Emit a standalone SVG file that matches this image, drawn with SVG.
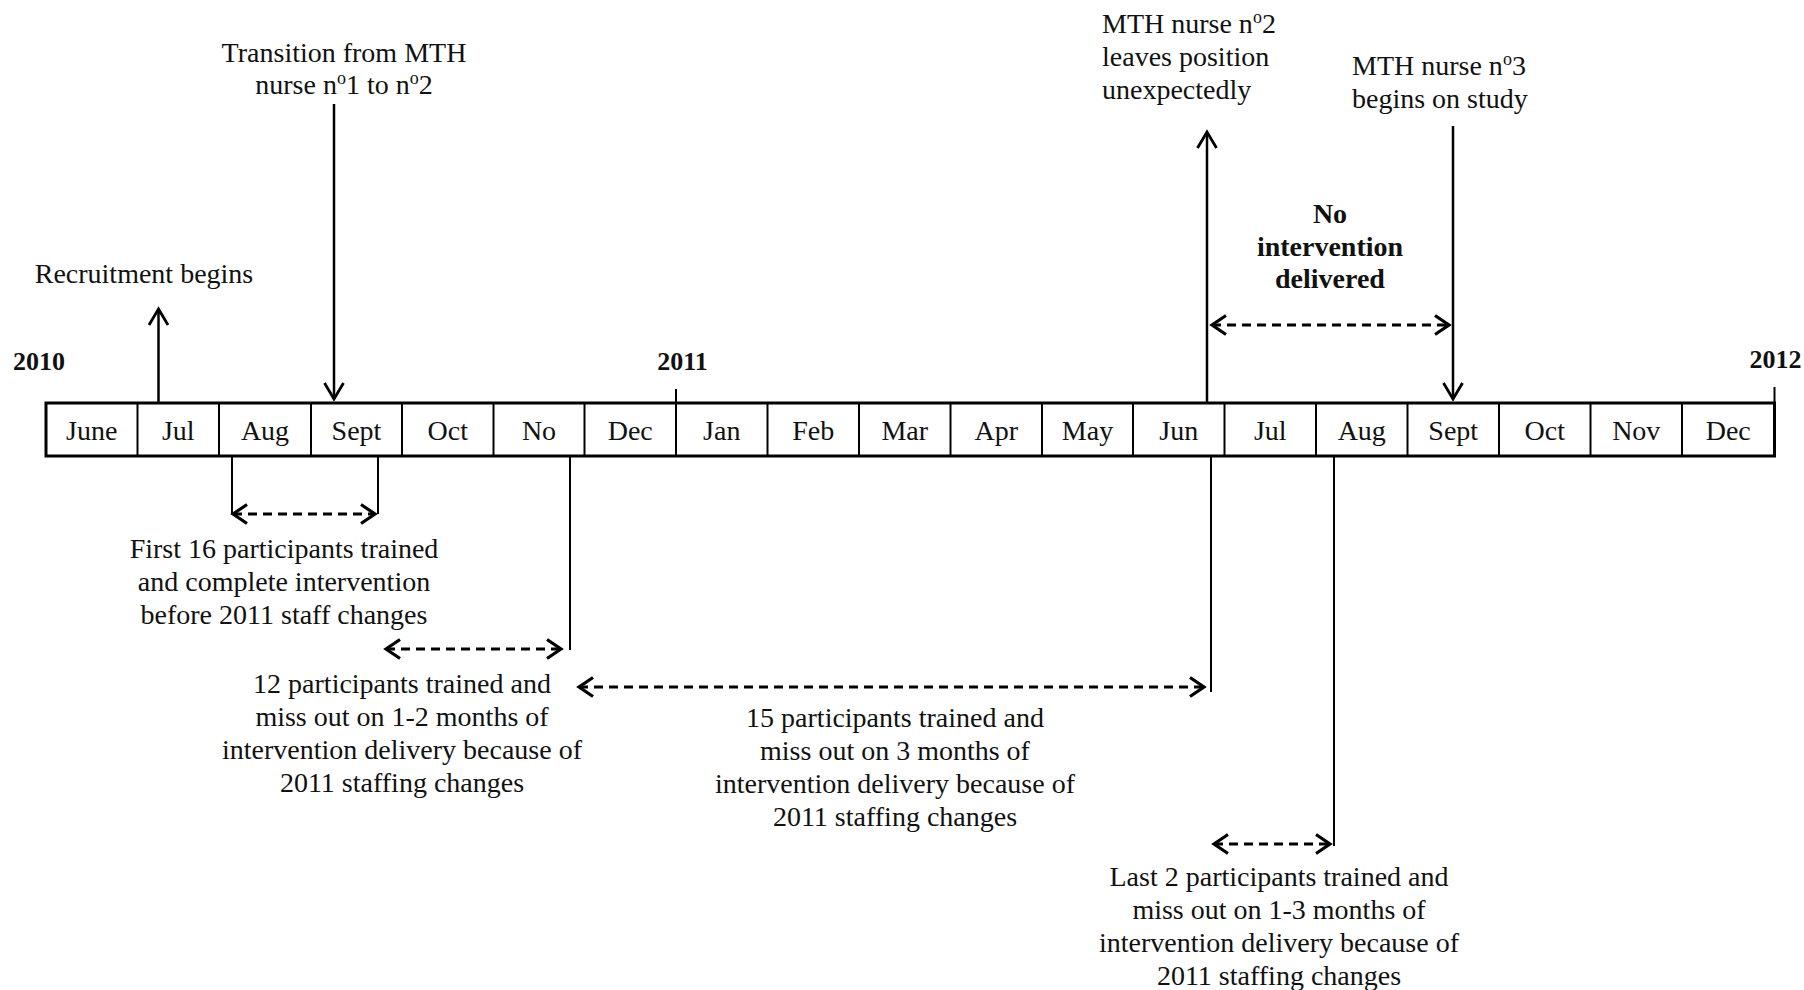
<svg xmlns="http://www.w3.org/2000/svg" width="1804" height="990" viewBox="0 0 1804 990">
<style>
  text { font-family: "Liberation Serif", "Times New Roman", serif; font-size: 28px; fill: #111; }
  .mid { text-anchor: middle; }
  .bold { font-weight: bold; }
  .year { font-weight: bold; font-size: 26px; text-anchor: middle; }
  .box { fill: #fff; stroke: #000; stroke-width: 3; }
  .div { stroke: #000; stroke-width: 2; }
  .solid { stroke: #000; stroke-width: 2.5; fill: none; }
  .dash { stroke: #000; stroke-width: 2.8; fill: none; stroke-dasharray: 9 6; }
  .thin { stroke: #000; stroke-width: 2; fill: none; }
</style>
<defs>
  <marker id="ah" markerUnits="userSpaceOnUse" viewBox="-18 -12 20 24" refX="0" refY="0" markerWidth="20" markerHeight="24" orient="auto" style="overflow:visible">
    <path d="M-16,-9.5 L0,0 L-16,9.5" fill="none" stroke="#000" stroke-width="2.8" stroke-dasharray="none"/>
  </marker>
  <marker id="dh" markerUnits="userSpaceOnUse" viewBox="-16 -11 18 22" refX="0" refY="0" markerWidth="18" markerHeight="22" orient="auto-start-reverse" style="overflow:visible">
    <path d="M-14,-9.5 L0,0 L-14,9.5" fill="none" stroke="#000" stroke-width="3.2" stroke-dasharray="none"/>
  </marker>
</defs>
<rect width="1804" height="990" fill="#fff"/>

<g id="timeline">
  <rect class="box" x="46" y="403" width="1728.5" height="53"/>
  <line class="div" x1="137.5" y1="403" x2="137.5" y2="456"/>
  <line class="div" x1="219" y1="403" x2="219" y2="456"/>
  <line class="div" x1="311" y1="403" x2="311" y2="456"/>
  <line class="div" x1="402" y1="403" x2="402" y2="456"/>
  <line class="div" x1="493.5" y1="403" x2="493.5" y2="456"/>
  <line class="div" x1="584.5" y1="403" x2="584.5" y2="456"/>
  <line class="div" x1="676" y1="389" x2="676" y2="456"/>
  <line class="div" x1="767.5" y1="403" x2="767.5" y2="456"/>
  <line class="div" x1="859" y1="403" x2="859" y2="456"/>
  <line class="div" x1="950.5" y1="403" x2="950.5" y2="456"/>
  <line class="div" x1="1042" y1="403" x2="1042" y2="456"/>
  <line class="div" x1="1133" y1="403" x2="1133" y2="456"/>
  <line class="div" x1="1224.5" y1="403" x2="1224.5" y2="456"/>
  <line class="div" x1="1316" y1="403" x2="1316" y2="456"/>
  <line class="div" x1="1407.5" y1="403" x2="1407.5" y2="456"/>
  <line class="div" x1="1499" y1="403" x2="1499" y2="456"/>
  <line class="div" x1="1590.5" y1="403" x2="1590.5" y2="456"/>
  <line class="div" x1="1682" y1="403" x2="1682" y2="456"/>
  <line class="div" x1="1774.5" y1="387" x2="1774.5" y2="403"/>
  <text class="mid" x="91.75" y="440">June</text>
  <text class="mid" x="178.25" y="440">Jul</text>
  <text class="mid" x="265" y="440">Aug</text>
  <text class="mid" x="356.5" y="440">Sept</text>
  <text class="mid" x="447.75" y="440">Oct</text>
  <text class="mid" x="539" y="440">No</text>
  <text class="mid" x="630.25" y="440">Dec</text>
  <text class="mid" x="721.75" y="440">Jan</text>
  <text class="mid" x="813.25" y="440">Feb</text>
  <text class="mid" x="904.75" y="440">Mar</text>
  <text class="mid" x="996.25" y="440">Apr</text>
  <text class="mid" x="1087.5" y="440">May</text>
  <text class="mid" x="1178.75" y="440">Jun</text>
  <text class="mid" x="1270.25" y="440">Jul</text>
  <text class="mid" x="1361.75" y="440">Aug</text>
  <text class="mid" x="1453.25" y="440">Sept</text>
  <text class="mid" x="1544.75" y="440">Oct</text>
  <text class="mid" x="1636.25" y="440">Nov</text>
  <text class="mid" x="1728.25" y="440">Dec</text>
</g>

<g id="years">
  <text class="year" x="39" y="370">2010</text>
  <text class="year" x="682.5" y="370">2011</text>
  <text class="year" x="1775.5" y="368">2012</text>
</g>

<g id="recruitment">
  <text class="mid" x="144" y="283">Recruitment begins</text>
</g>

<g id="transition">
  <text class="mid" x="344" y="62">Transition from MTH</text>
  <text class="mid" x="344" y="94">nurse n<tspan font-size="18" dy="-10">o</tspan><tspan dy="10">1 to n</tspan><tspan font-size="18" dy="-10">o</tspan><tspan dy="10">2</tspan></text>
</g>

<g id="nurse2-leaves">
  <text x="1102" y="33">MTH nurse n<tspan font-size="18" dy="-10">o</tspan><tspan dy="10">2</tspan></text>
  <text x="1102" y="66">leaves position</text>
  <text x="1102" y="99">unexpectedly</text>
</g>

<g id="nurse3-begins">
  <text x="1352" y="75">MTH nurse n<tspan font-size="18" dy="-10">o</tspan><tspan dy="10">3</tspan></text>
  <text x="1352" y="108">begins on study</text>
</g>

<g id="no-intervention">
  <text class="mid bold" x="1330" y="223">No</text>
  <text class="mid bold" x="1330" y="256">intervention</text>
  <text class="mid bold" x="1330" y="288">delivered</text>
</g>

<g id="first-16">
  <text class="mid" x="284" y="558">First 16 participants trained</text>
  <text class="mid" x="284" y="591">and complete intervention</text>
  <text class="mid" x="284" y="624">before 2011 staff changes</text>
</g>

<g id="twelve">
  <text class="mid" x="402" y="693">12 participants trained and</text>
  <text class="mid" x="402" y="726">miss out on 1-2 months of</text>
  <text class="mid" x="402" y="759">intervention delivery because of</text>
  <text class="mid" x="402" y="792">2011 staffing changes</text>
</g>

<g id="fifteen">
  <text class="mid" x="895" y="727">15 participants trained and</text>
  <text class="mid" x="895" y="760">miss out on 3 months of</text>
  <text class="mid" x="895" y="793">intervention delivery because of</text>
  <text class="mid" x="895" y="826">2011 staffing changes</text>
</g>

<g id="last-2">
  <text class="mid" x="1279" y="886">Last 2 participants trained and</text>
  <text class="mid" x="1279" y="919">miss out on 1-3 months of</text>
  <text class="mid" x="1279" y="952">intervention delivery because of</text>
  <text class="mid" x="1279" y="985">2011 staffing changes</text>
</g>

<g id="connectors">
  <line class="solid" x1="158.5" y1="403" x2="158.5" y2="309" marker-end="url(#ah)"/>
  <line class="solid" x1="334" y1="104" x2="334" y2="399" marker-end="url(#ah)"/>
  <line class="solid" x1="1207" y1="403" x2="1207" y2="132" marker-end="url(#ah)"/>
  <line class="solid" x1="1453" y1="126" x2="1453" y2="399" marker-end="url(#ah)"/>
  <line class="dash" x1="1212" y1="325" x2="1449" y2="325" marker-start="url(#dh)" marker-end="url(#dh)"/>

  <line class="thin" x1="232" y1="456" x2="232" y2="514"/>
  <line class="thin" x1="378" y1="456" x2="378" y2="514"/>
  <line class="dash" x1="233" y1="514" x2="375" y2="514" marker-start="url(#dh)" marker-end="url(#dh)"/>

  <line class="thin" x1="570" y1="456" x2="570" y2="650"/>
  <line class="dash" x1="386" y1="649" x2="561" y2="649" marker-start="url(#dh)" marker-end="url(#dh)"/>

  <line class="thin" x1="1211" y1="456" x2="1211" y2="692"/>
  <line class="dash" x1="579" y1="687" x2="1204" y2="687" marker-start="url(#dh)" marker-end="url(#dh)"/>

  <line class="thin" x1="1334" y1="456" x2="1334" y2="846"/>
  <line class="dash" x1="1214" y1="844" x2="1330" y2="844" marker-start="url(#dh)" marker-end="url(#dh)"/>
</g>
</svg>
